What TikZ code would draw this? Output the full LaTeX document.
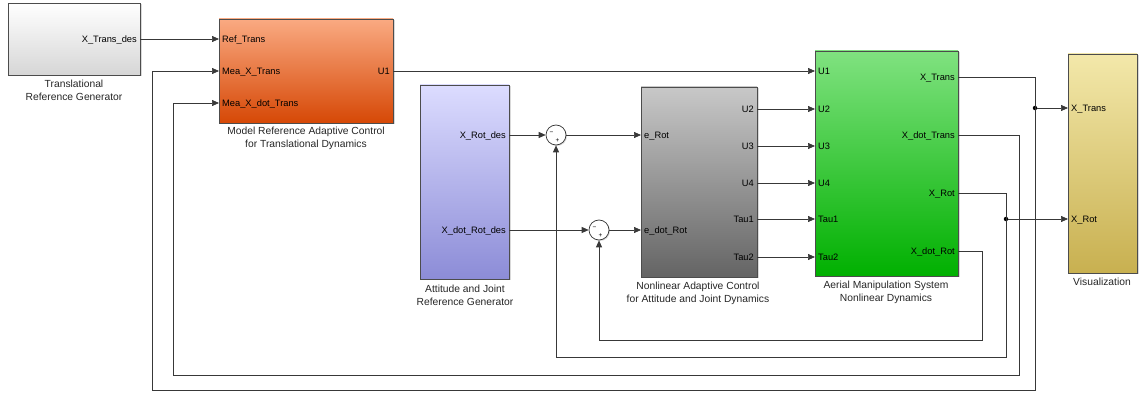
\documentclass[tikz,border=0pt]{standalone}
\usepackage{fontspec}
\setmainfont{Liberation Sans}
\usetikzlibrary{arrows.meta,shadows}
\begin{document}
\begin{tikzpicture}[x=1pt,y=-1pt,
 wire/.style={draw=black!78, line width=0.7pt},
 arr/.style={wire, -{Triangle[length=7pt,width=6pt]}},
 block/.style={draw=black!70, line width=0.8pt, inner sep=0pt,
   drop shadow={shadow xshift=1.5pt,shadow yshift=-1.5pt,opacity=0.3}},
 pin/.style={anchor=west, inner sep=0pt, xshift=3pt, font=\fontsize{9.3}{10}\selectfont, text height=6.7pt, text depth=0pt},
 pout/.style={anchor=east, inner sep=0pt, xshift=-3pt, font=\fontsize{9.3}{10}\selectfont, text height=6.7pt, text depth=0pt},
 blkcap/.style={align=center, font=\fontsize{10.3}{13}\selectfont, inner sep=0pt, text=black!85},
 sumblk/.style={circle, draw=black!80, fill=white, minimum size=20pt, inner sep=0pt, line width=0.7pt,
   drop shadow={shadow xshift=1pt,shadow yshift=-1pt,opacity=0.3}},
 sgn/.style={inner sep=0pt, font=\fontsize{6.5}{7}\selectfont},
 jdot/.style={circle, fill=black, inner sep=0pt, minimum size=4.5pt}
]
\useasboundingbox (0,0) rectangle (1140,395);

% ---------------- blocks ----------------
\node[block, minimum width=132pt, minimum height=72pt, top color=white, bottom color=black!16] (trg) at (74,39) {};
\node[block, minimum width=174pt, minimum height=104pt, top color={rgb,255:red,250;green,170;blue,130}, bottom color={rgb,255:red,214;green,72;blue,6}] (mrac) at (306,71) {};
\node[block, minimum width=89pt, minimum height=194pt, top color={rgb,255:red,220;green,220;blue,255}, bottom color={rgb,255:red,140;green,140;blue,215}] (arg) at (464.5,182) {};
\node[block, minimum width=116pt, minimum height=190pt, top color={rgb,255:red,200;green,200;blue,200}, bottom color={rgb,255:red,100;green,100;blue,100}] (nac) at (699,182) {};
\node[block, minimum width=143pt, minimum height=225pt, top color={rgb,255:red,128;green,226;blue,128}, bottom color={rgb,255:red,0;green,176;blue,0}] (amd) at (886.5,163.5) {};
\node[block, minimum width=69pt, minimum height=219pt, top color={rgb,255:red,243;green,232;blue,170}, bottom color={rgb,255:red,200;green,176;blue,80}] (vis) at (1102.5,163.5) {};

% ---------------- captions ----------------
\node[blkcap] (trgcap) at (74,90.5) {Translational\\Reference Generator};
\node[blkcap] (mraccap) at (306,138.5) {Model Reference Adaptive Control\\for Translational Dynamics};
\node[blkcap] (argcap) at (465,295) {Attitude and Joint\\Reference Generator};
\node[blkcap] (naccap) at (698,293) {Nonlinear Adaptive Control\\for Attitude and Joint Dynamics};
\node[blkcap] (amdcap) at (886,292) {Aerial Manipulation System\\Nonlinear Dynamics};
\node[blkcap] (viscap) at (1102,282) {Visualization};

% ---------------- ports ----------------
\coordinate (trg-o) at (140,39);
\coordinate (mrac-i1) at (219,39);
\coordinate (mrac-i2) at (219,71);
\coordinate (mrac-i3) at (219,103);
\coordinate (mrac-o) at (393,71);
\coordinate (arg-o1) at (509,135);
\coordinate (arg-o2) at (509,230);
\coordinate (nac-i1) at (641,135);
\coordinate (nac-i2) at (641,230);
\coordinate (nac-o2) at (757,109);
\coordinate (nac-o3) at (757,146);
\coordinate (nac-o4) at (757,183);
\coordinate (nac-o5) at (757,219);
\coordinate (nac-o6) at (757,257);
\coordinate (amd-i1) at (815,71);
\coordinate (amd-i2) at (815,109);
\coordinate (amd-i3) at (815,146);
\coordinate (amd-i4) at (815,183);
\coordinate (amd-i5) at (815,219);
\coordinate (amd-i6) at (815,257);
\coordinate (amd-o1) at (958,77);
\coordinate (amd-o2) at (958,135);
\coordinate (amd-o3) at (958,193);
\coordinate (amd-o4) at (958,251);
\coordinate (vis-i1) at (1068,108);
\coordinate (vis-i2) at (1068,219);

\node[pout] at (trg-o) {X\_Trans\_des};
\node[pin] at (mrac-i1) {Ref\_Trans};
\node[pin] at (mrac-i2) {Mea\_X\_Trans};
\node[pin] at (mrac-i3) {Mea\_X\_dot\_Trans};
\node[pout] at (mrac-o) {U1};
\node[pout] at (arg-o1) {X\_Rot\_des};
\node[pout] at (arg-o2) {X\_dot\_Rot\_des};
\node[pin] at (nac-i1) {e\_Rot};
\node[pin] at (nac-i2) {e\_dot\_Rot};
\node[pout] at (nac-o2) {U2};
\node[pout] at (nac-o3) {U3};
\node[pout] at (nac-o4) {U4};
\node[pout] at (nac-o5) {Tau1};
\node[pout] at (nac-o6) {Tau2};
\node[pin] at (amd-i1) {U1};
\node[pin] at (amd-i2) {U2};
\node[pin] at (amd-i3) {U3};
\node[pin] at (amd-i4) {U4};
\node[pin] at (amd-i5) {Tau1};
\node[pin] at (amd-i6) {Tau2};
\node[pout] at (amd-o1) {X\_Trans};
\node[pout] at (amd-o2) {X\_dot\_Trans};
\node[pout] at (amd-o3) {X\_Rot};
\node[pout] at (amd-o4) {X\_dot\_Rot};
\node[pin] at (vis-i1) {X\_Trans};
\node[pin] at (vis-i2) {X\_Rot};

% ---------------- sums ----------------
\node[sumblk] (s1) at (556,135) {};
\node[sumblk] (s2) at (599,230) {};
\node[sgn] at (551.5,133.5) {−};
\node[sgn] at (557.5,140.5) {+};
\node[sgn] at (594.5,228.5) {−};
\node[sgn] at (600.5,235.5) {+};

% ---------------- routing points ----------------
\coordinate (fa1) at (1035,390);
\coordinate (fb1) at (152,390);
\coordinate (fa2) at (1019,375);
\coordinate (fb2) at (173,375);
\coordinate (fa3) at (1006,357);
\coordinate (fb3) at (556,357);
\coordinate (fa4) at (982,340);
\coordinate (fb4) at (599,340);
\node[jdot] (d1) at (1035,108) {};
\node[jdot] (d2) at (1006,219) {};

% ---------------- connectors ----------------
\draw[arr] (trg-o) -- (mrac-i1);
\draw[arr] (mrac-o) -- (amd-i1);
\draw[arr] (arg-o1) -- (s1.west);
\draw[arr] (s1.east) -- (nac-i1);
\draw[arr] (arg-o2) -- (s2.west);
\draw[arr] (s2.east) -- (nac-i2);
\draw[arr] (nac-o2) -- (amd-i2);
\draw[arr] (nac-o3) -- (amd-i3);
\draw[arr] (nac-o4) -- (amd-i4);
\draw[arr] (nac-o5) -- (amd-i5);
\draw[arr] (nac-o6) -- (amd-i6);

\draw[arr] (amd-o1) -| (fa1) -- (fb1) |- (mrac-i2);
\draw[arr] (d1) -- (vis-i1);
\draw[arr] (amd-o2) -| (fa2) -- (fb2) |- (mrac-i3);
\draw[arr] (amd-o3) -| (fa3) -- (fb3) -- (s1.south);
\draw[arr] (d2) -- (vis-i2);
\draw[arr] (amd-o4) -| (fa4) -- (fb4) -- (s2.south);
\end{tikzpicture}
\end{document}
